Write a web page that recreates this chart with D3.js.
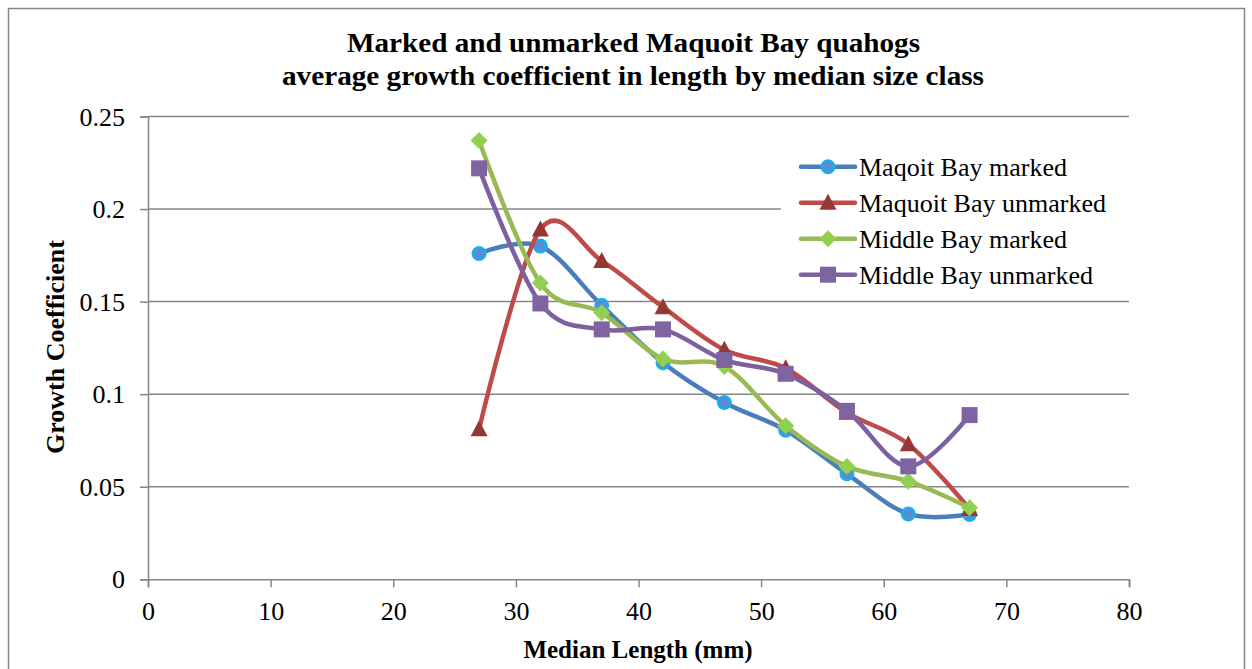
<!DOCTYPE html>
<html><head><meta charset="utf-8">
<script src="https://cdn.jsdelivr.net/npm/d3@7"></script>
<style>
html,body{margin:0;padding:0;background:#fff;}
text{font-family:"Liberation Serif","Times New Roman",serif;fill:#000;}
</style></head>
<body>
<svg id="chart" width="1252" height="669"></svg>
<script>
const medianLength = [27, 32, 37, 42, 47, 52, 57, 62, 67];
const maqoitMarked   = [0.176, 0.180, 0.148, 0.117, 0.0955, 0.0805, 0.057, 0.0353, 0.035];
const maqoitUnmarked = [0.081, 0.189, 0.172, 0.147, 0.124, 0.114, 0.090, 0.073, 0.038];
const middleMarked   = [0.237, 0.160, 0.144, 0.119, 0.115, 0.083, 0.061, 0.053, 0.0386];
const middleUnmarked = [0.222, 0.149, 0.135, 0.135, 0.1185, 0.111, 0.091, 0.061, 0.0887];
const seriesNames = ["Maqoit Bay marked", "Maquoit Bay unmarked", "Middle Bay marked", "Middle Bay unmarked"];
const xTicks = [0, 10, 20, 30, 40, 50, 60, 70, 80];
const yTicks = [0, 0.05, 0.1, 0.15, 0.2, 0.25];
const titleLines = ["Marked and unmarked Maquoit Bay quahogs", "average growth coefficient in length by median size class"];

const styles = [
  {line:"#4A7EBB", fill:"#558ED5", stroke:"#17B2EE", shape:"circle"},
  {line:"#BE4B48", fill:"#953735", stroke:"none", shape:"triangle"},
  {line:"#98B954", fill:"#92D050", stroke:"none", shape:"diamond"},
  {line:"#7D60A0", fill:"#8064A2", stroke:"none", shape:"square"}
];
const allSeries = [maqoitMarked, maqoitUnmarked, middleMarked, middleUnmarked];

const svg = d3.select("#chart");
const x = d3.scaleLinear().domain([0, 80]).range([148, 1129]);
const y = d3.scaleLinear().domain([0, 0.25]).range([579.3, 116.5]);

// outer border
svg.append("rect").attr("x", 8.5).attr("y", 8.5).attr("width", 1236).attr("height", 700)
  .attr("fill", "#fff").attr("stroke", "#868686").attr("stroke-width", 1.5);

// title
const titleSpec = [{x0: 347, x1: 920, base: 52}, {x0: 282, x1: 984, base: 85}];
titleLines.forEach((t, i) => {
  const s = titleSpec[i];
  svg.append("text").attr("x", (s.x0 + s.x1) / 2).attr("y", s.base)
    .attr("text-anchor", "middle").attr("font-size", 28).attr("font-weight", "bold")
    .attr("textLength", s.x1 - s.x0).attr("lengthAdjust", "spacingAndGlyphs")
    .text(t);
});

// gridlines
svg.append("g").selectAll("line").data(yTicks.filter(d => d > 0)).join("line")
  .attr("x1", 148).attr("x2", 1129).attr("y1", d => y(d)).attr("y2", d => y(d))
  .attr("stroke", "#868686").attr("stroke-width", 1.5);

// y axis
const yAxis = svg.append("g").attr("transform", "translate(148,0)")
  .call(d3.axisLeft(y).tickValues(yTicks).tickFormat(d => String(+d.toFixed(2))).tickSize(8).tickPadding(15));
yAxis.select(".domain").attr("stroke", "#868686").attr("stroke-width", 1.5);
yAxis.selectAll(".tick line").attr("stroke", "#868686").attr("stroke-width", 1.5);
yAxis.selectAll("text").attr("font-size", 26).attr("font-family", "Liberation Serif").attr("fill", "#000").attr("dy", "0.33em");

// x axis
const xAxis = svg.append("g").attr("transform", "translate(0,579.3)")
  .call(d3.axisBottom(x).tickValues(xTicks).tickSize(8));
xAxis.select(".domain").attr("stroke", "#868686").attr("stroke-width", 1.5);
xAxis.selectAll(".tick line").attr("stroke", "#868686").attr("stroke-width", 1.5);
xAxis.selectAll("text").attr("font-size", 26).attr("font-family", "Liberation Serif").attr("fill", "#000")
  .attr("y", 41).attr("dy", 0);

// axis titles
svg.append("text").attr("x", 638).attr("y", 658).attr("text-anchor", "middle")
  .attr("font-size", 25).attr("font-weight", "bold").text("Median Length (mm)");
svg.append("text").attr("transform", "translate(64,347) rotate(-90)").attr("text-anchor", "middle")
  .attr("font-size", 26).attr("font-weight", "bold").text("Growth Coefficient");

function drawMarker(g, st, cx, cy) {
  if (st.shape === "circle") {
    g.append("circle").attr("cx", cx).attr("cy", cy).attr("r", 6.5)
      .attr("fill", st.fill).attr("stroke", st.stroke).attr("stroke-width", 2);
  } else if (st.shape === "triangle") {
    g.append("path").attr("d", `M${cx},${cy-9}L${cx+8.5},${cy+7}L${cx-8.5},${cy+7}Z`).attr("fill", st.fill);
  } else if (st.shape === "diamond") {
    g.append("path").attr("d", `M${cx},${cy-8.5}L${cx+8.5},${cy}L${cx},${cy+8.5}L${cx-8.5},${cy}Z`).attr("fill", st.fill);
  } else {
    g.append("rect").attr("x", cx-8).attr("y", cy-8).attr("width", 16).attr("height", 16).attr("fill", st.fill);
  }
}

const line = d3.line().x(d => x(d[0])).y(d => y(d[1])).curve(d3.curveCardinal.tension(0));
allSeries.forEach((vals, i) => {
  const st = styles[i];
  const pts = medianLength.map((m, j) => [m, vals[j]]);
  const g = svg.append("g");
  g.append("path").attr("d", line(pts)).attr("fill", "none").attr("stroke", st.line)
    .attr("stroke-width", 4.5).attr("stroke-linejoin", "round").attr("stroke-linecap", "round");
  pts.forEach(p => drawMarker(g, st, x(p[0]), y(p[1])));
});

// legend
const lg = svg.append("g");
lg.append("rect").attr("x", 781).attr("y", 146).attr("width", 348).attr("height", 148).attr("fill", "#fff");
seriesNames.forEach((name, i) => {
  const st = styles[i];
  const cy = 166.7 + i * 36;
  lg.append("line").attr("x1", 801).attr("x2", 855).attr("y1", cy).attr("y2", cy)
    .attr("stroke", st.line).attr("stroke-width", 4.5).attr("stroke-linecap", "round");
  drawMarker(lg, st, 828, cy);
  lg.append("text").attr("x", 859).attr("y", cy + 9).attr("font-size", 26).text(name);
});
</script>
</body></html>
